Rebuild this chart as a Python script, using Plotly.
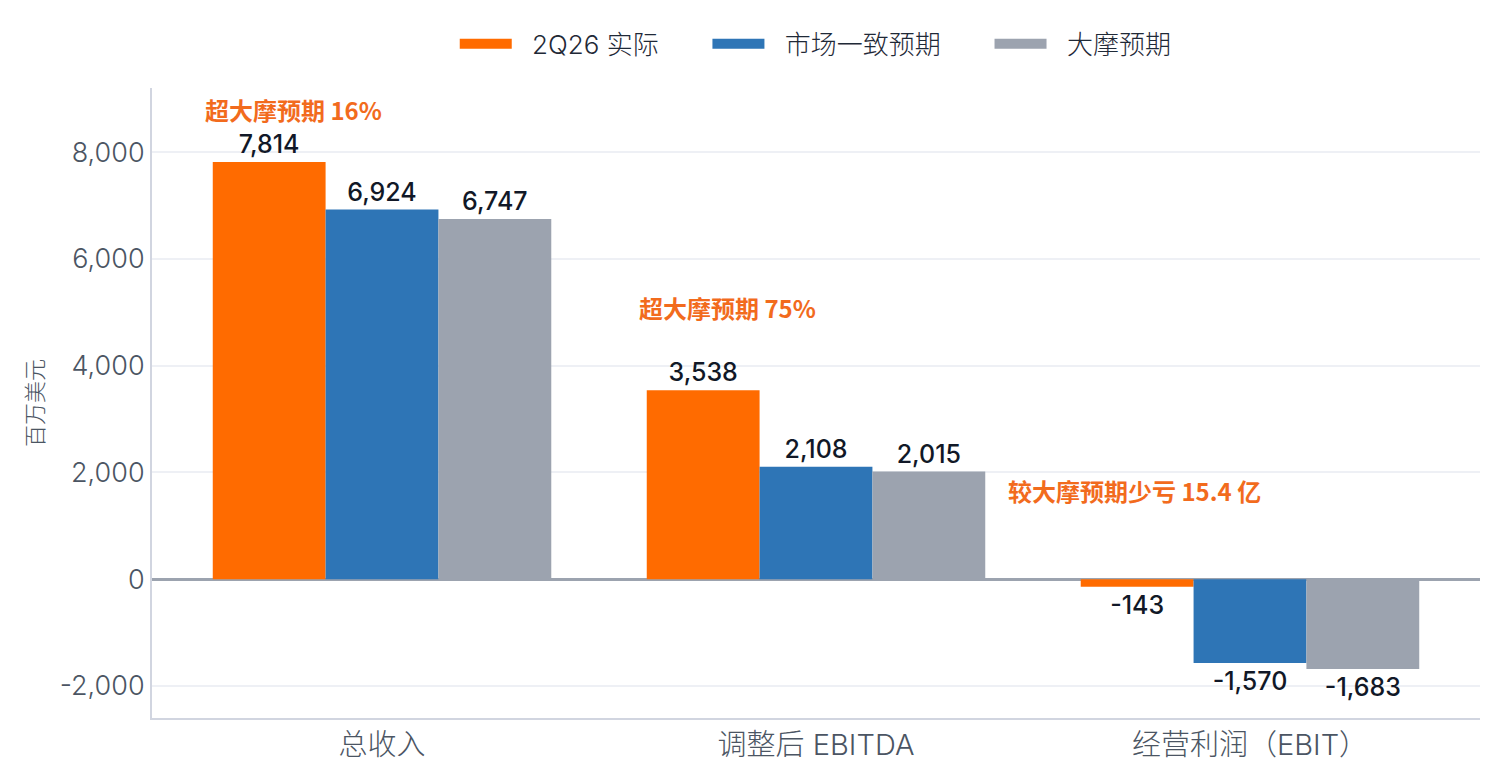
import plotly.graph_objects as go

categories = ["总收入", "调整后 EBITDA", "经营利润（EBIT）"]
series_names = ["2Q26 实际", "市场一致预期", "大摩预期"]
actual = [7814, 3538, -143]
consensus = [6924, 2108, -1570]
ms_est = [6747, 2015, -1683]
colors = ["#FF6B00", "#2E75B6", "#9CA3AF"]

y_ticks = [-2000, 0, 2000, 4000, 6000, 8000]
y_ticktext = [f"{v:,}" for v in y_ticks]

ann_texts = ["超大摩预期 16%", "超大摩预期 75%", "较大摩预期少亏 15.4 亿"]
ann_x = [-0.205, 0.797, 1.735]
ann_y = [8790, 5080, 1670]

FONT = "Inter, Noto Sans CJK SC, sans-serif"

fig = go.Figure()
for name, vals, col in zip(series_names, [actual, consensus, ms_est], colors):
    fig.add_trace(go.Bar(
        x=categories, y=vals, name=name, marker=dict(color=col, line=dict(width=0)),
        text=[f"{v:,}" for v in vals], textposition="outside",
        textfont=dict(size=25, color="#111827", family=FONT, weight=500),
        cliponaxis=False, showlegend=False,
    ))
    fig.add_trace(go.Scatter(
        x=[None], y=[None], mode="lines",
        name="\u2002\u200a" + name + "\u2003\u2002\u2009",
        line=dict(color=col, width=18), showlegend=True,
    ))

for t, x, y in zip(ann_texts, ann_x, ann_y):
    fig.add_annotation(x=x, y=y, xref="x", yref="y", text=f"<b>{t}</b>",
                       showarrow=False,
                       font=dict(size=24, color="#F26B1D", family="Noto Sans CJK SC, Inter, sans-serif"))

fig.update_layout(
    width=1500, height=775,
    margin=dict(l=144, r=28, t=80, b=65),
    paper_bgcolor="white", plot_bgcolor="white",
    barmode="group", bargap=0.22, bargroupgap=0,
    font=dict(family=FONT, color="#4B5563"),
    legend=dict(orientation="h", x=0.516, xanchor="center", y=1.07, yanchor="middle",
                font=dict(size=26, color="#1F2937", family=FONT, weight=300), itemwidth=52,
                traceorder="normal"),
    xaxis=dict(range=[-0.53, 2.53], showline=True, linecolor="#D1D5E0", linewidth=2,
               tickfont=dict(size=29, color="#4B5563", weight=300), ticks="", showgrid=False),
    yaxis=dict(range=[-2600, 9200], tickvals=y_ticks, ticktext=y_ticktext,
               showline=True, linecolor="#D1D5E0", linewidth=2,
               gridcolor="#EEF0F5", gridwidth=1.5,
               zeroline=True, zerolinecolor="#9CA3AF", zerolinewidth=2.5,
               tickfont=dict(size=27, color="#4B5563", weight=300), ticks="",
               title=dict(text="百万美元", font=dict(size=22, color="#4B5563", weight=300), standoff=10)),
)

fig.write_html("out.html")
